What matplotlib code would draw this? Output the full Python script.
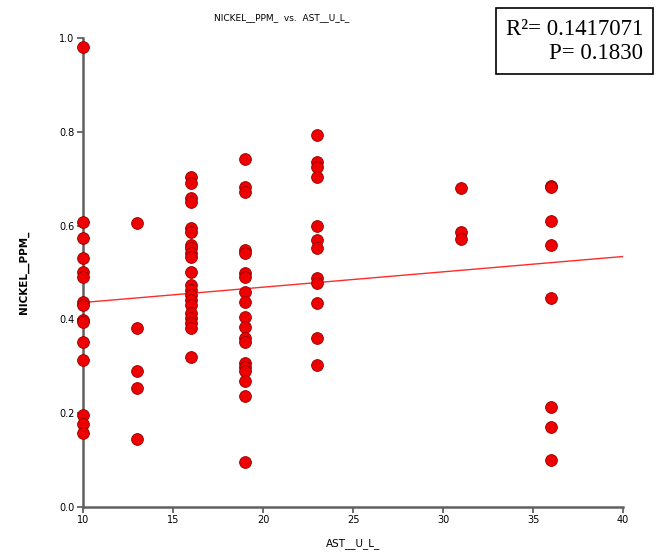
import matplotlib
matplotlib.use("Agg")
import matplotlib.pyplot as plt
import numpy as np

# AST__U_L_ values (x) and matching NICKEL__PPM_ values (y), read per column
ast_levels = [10, 13, 16, 19, 23, 31, 36]
nickel_by_level = {
    10: [0.981, 0.608, 0.573, 0.530, 0.502, 0.491, 0.438, 0.431, 0.399, 0.395,
         0.352, 0.313, 0.196, 0.178, 0.157],
    13: [0.605, 0.381, 0.289, 0.254, 0.144],
    16: [0.704, 0.690, 0.658, 0.651, 0.594, 0.587, 0.559, 0.552, 0.541, 0.534,
         0.502, 0.473, 0.463, 0.452, 0.441, 0.431, 0.413, 0.403, 0.392, 0.381,
         0.320],
    19: [0.742, 0.682, 0.672, 0.548, 0.541, 0.498, 0.491, 0.459, 0.438, 0.406,
         0.384, 0.360, 0.352, 0.306, 0.299, 0.291, 0.269, 0.237, 0.095],
    23: [0.793, 0.736, 0.726, 0.703, 0.599, 0.569, 0.552, 0.488, 0.477, 0.436,
         0.360, 0.303],
    31: [0.680, 0.587, 0.571],
    36: [0.685, 0.682, 0.610, 0.559, 0.446, 0.214, 0.171, 0.100],
}
# fitted line as shown in the chart
fit_intercept = 0.4033
fit_slope = 0.00327
r2_text = "R²= 0.1417071"
p_text = "P= 0.1830"
x_ticks = [10, 15, 20, 25, 30, 35, 40]
y_ticks = [0.0, 0.2, 0.4, 0.6, 0.8, 1.0]

x = np.concatenate([[lvl] * len(nickel_by_level[lvl]) for lvl in ast_levels]).astype(float)
y = np.concatenate([nickel_by_level[lvl] for lvl in ast_levels])

fig = plt.figure(figsize=(6.59, 5.56), dpi=100)
ax = fig.add_axes([83 / 659, 49 / 556, 540 / 659, 469 / 556])

xl = np.array([10, 40])
ax.plot(xl, fit_intercept + fit_slope * xl, color='#ff2a2a', lw=1.0, zorder=2)

ax.scatter(x, y, s=72, color='#ee0000', edgecolors='#900000', linewidths=0.6, zorder=3,
           clip_on=False)

ax.set_xlim(10, 40)
ax.set_ylim(0, 1.0)
ax.set_xticks(x_ticks)
ax.set_yticks(y_ticks)
ax.set_xticklabels([str(t) for t in x_ticks])
ax.set_yticklabels([f"{t:.1f}" for t in y_ticks])
ax.tick_params(labelsize=7, length=4, width=1.2, color='#555555', direction='out', pad=2)

for side in ['top', 'right']:
    ax.spines[side].set_visible(False)
for side in ['left', 'bottom']:
    ax.spines[side].set_color('#606060')
    ax.spines[side].set_linewidth(1.8)

ax.set_xlabel("AST__U_L_", fontsize=7.5, labelpad=9)
ax.set_ylabel("NICKEL__PPM_", fontsize=7.5, fontweight='bold', labelpad=22)

fig.text(0.427, 0.969, "NICKEL__PPM_  vs.  AST__U_L_", fontsize=6.5, ha='center', va='center')

box_text = r2_text + "\n" + p_text
fig.text(0.976, 0.926, box_text, fontsize=16.5, family='Liberation Serif', ha='right', va='center',
         linespacing=1.2,
         bbox=dict(boxstyle='square,pad=0.45', facecolor='white', edgecolor='black', linewidth=1.2))

fig.savefig("out.png", dpi=100)
